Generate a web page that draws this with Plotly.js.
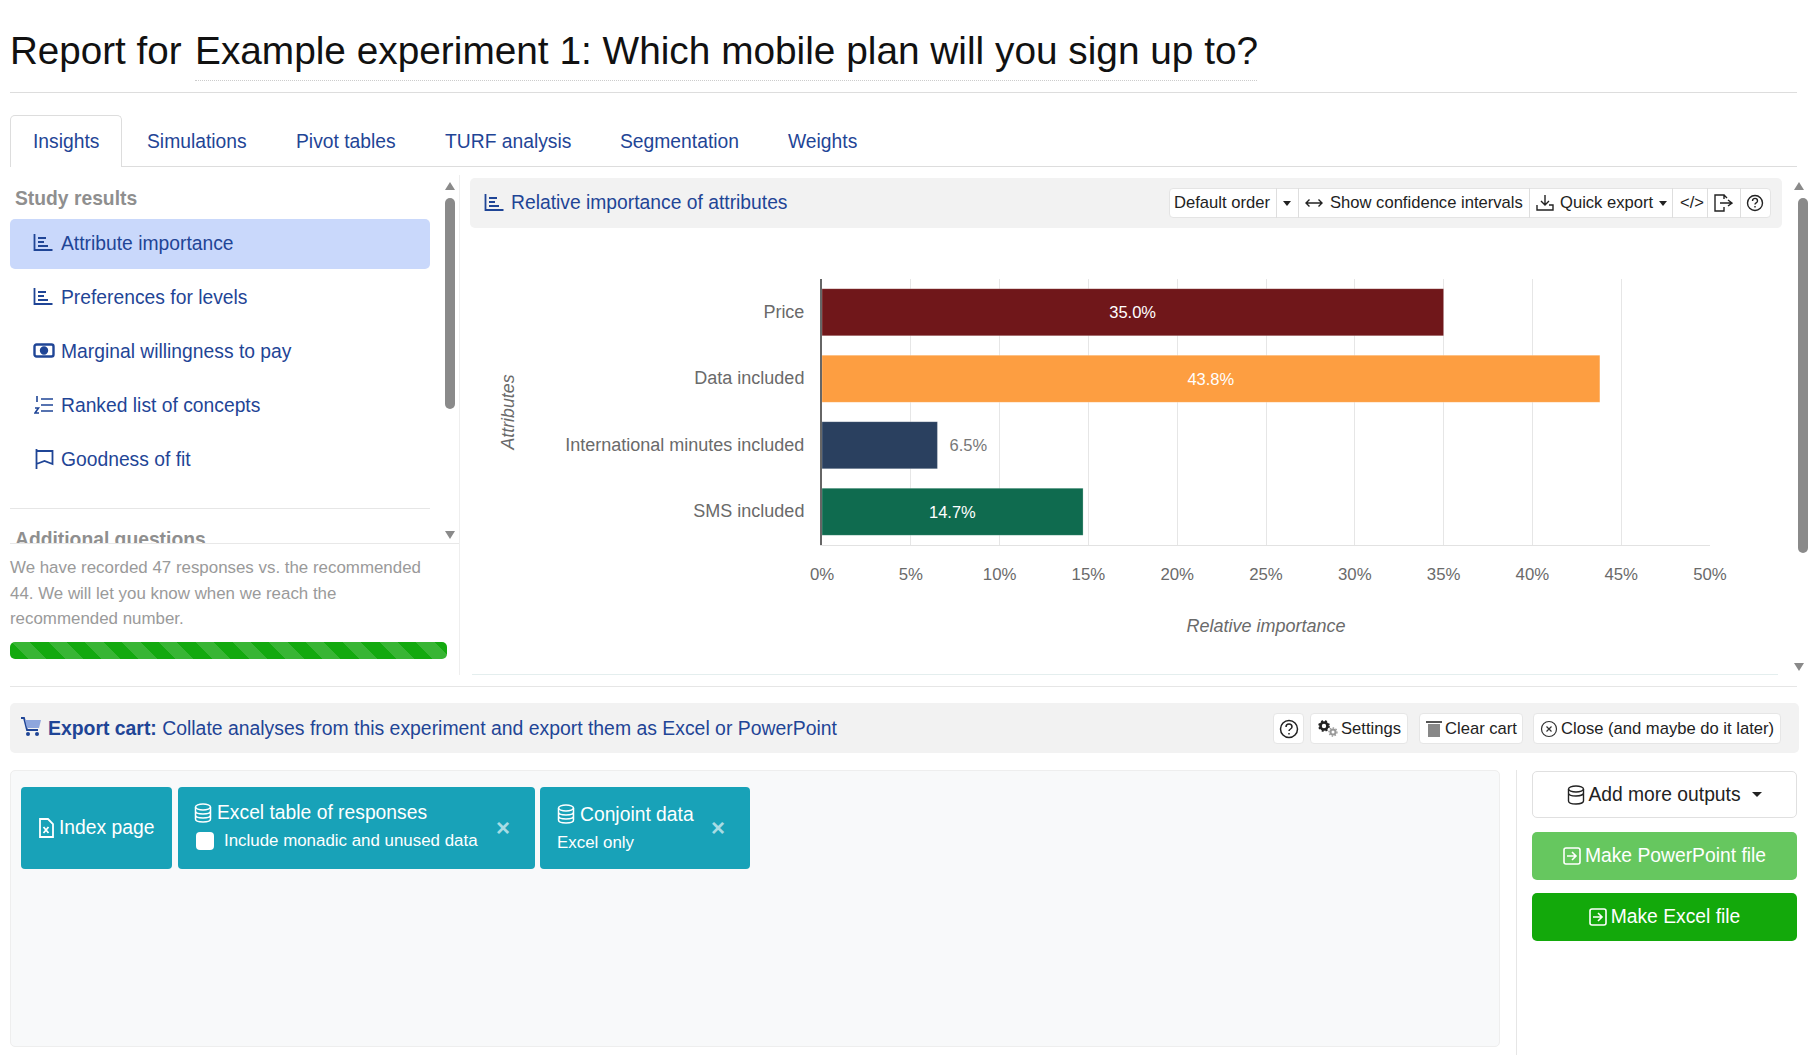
<!DOCTYPE html>
<html><head><meta charset="utf-8">
<script src="https://cdn.plot.ly/plotly-3.0.1.min.js"></script>
<style>
html,body{margin:0;padding:0;background:#fff;width:1808px;height:1055px;overflow:hidden;font-family:"Liberation Sans",Arial,sans-serif}
.a{position:absolute;white-space:nowrap}
.c{display:flex;align-items:center;justify-content:center;box-sizing:border-box}
.tab{font-size:19.3px;top:130px;line-height:24px;color:#1f4596}
.item{font-size:19.3px;left:61px;line-height:24px;color:#1f4596}
.ic{position:absolute;fill:none;stroke:#1f4596;stroke-width:1.8}
.btn{position:absolute;top:713px;height:31px;background:#fff;border:1px solid #e6e6e6;border-radius:4px;box-sizing:border-box;font-size:16.6px;color:#222;line-height:29px;white-space:nowrap}
.sep{position:absolute;top:188px;height:30px;width:1px;background:#dedede}
.tb{position:absolute;top:191px;font-size:16.6px;line-height:24px;color:#222;white-space:nowrap}
.tile{position:absolute;top:787px;height:82px;background:#18a2b8;border-radius:4px;color:#fff;white-space:nowrap}
.w{position:absolute;fill:none;stroke:#fff;stroke-width:1.5}
.ar{position:absolute;width:0;height:0;border-left:5px solid transparent;border-right:5px solid transparent}
</style></head><body>
<div class="a" style="left:10px;top:26px;font-size:38.6px;line-height:50px;color:#111" id="titleA"></div>
<div class="a" style="left:195px;top:26px;font-size:38.8px;line-height:50px;color:#111" id="titleB"></div>
<div class="a" style="left:195px;top:80px;width:1062px;border-top:1px dotted #ccc"></div>
<div class="a" style="left:10px;top:92px;width:1787px;border-top:1px solid #ddd"></div>

<div class="a" style="left:10px;top:166px;width:1787px;border-top:1px solid #ddd"></div>
<div class="a" style="left:10px;top:115px;width:112px;height:52px;box-sizing:border-box;background:#fff;border:1px solid #ddd;border-bottom:none;border-radius:5px 5px 0 0"></div>
<div id="tabs"></div>

<div class="a" style="left:15px;top:187px;font-size:19.3px;line-height:24px;font-weight:bold;color:#8f8f8f">Study results</div>
<div class="a" style="left:10px;top:219px;width:420px;height:50px;background:#c9d8fb;border-radius:5px"></div>
<div id="items"></div>
<svg class="ic" style="left:33px;top:233px" width="20" height="20" viewBox="0 0 20 20"><path d="M1.5 1v16h18M5 5h8M5 9h6M5 13h10"/></svg>
<svg class="ic" style="left:33px;top:287px" width="20" height="20" viewBox="0 0 20 20"><path d="M1.5 1v16h18M5 5h8M5 9h6M5 13h10"/></svg>
<svg class="ic" style="left:33px;top:341px;stroke-width:2.4" width="22" height="20" viewBox="0 0 22 20"><rect x="1.5" y="3.5" width="19" height="12" rx="2"/><circle cx="11" cy="9.5" r="3" fill="#1f4596"/></svg>
<svg class="ic" style="left:34px;top:395px" width="20" height="20" viewBox="0 0 20 20"><path d="M7 4h12M7 10h12M7 16h12M3 1v6M1 13h3.500l-3.500 5h4" stroke-width="1.6"/></svg>
<svg class="ic" style="left:35px;top:449px" width="19" height="20" viewBox="0 0 19 20"><path d="M1.5 0v20M1.5 2h16v13l-8-3-8 3"/></svg>
<div class="a" style="left:10px;top:508px;width:420px;border-top:1px solid #e6e6e6"></div>
<div class="a" style="left:15px;top:528px;height:15px;overflow:hidden;font-size:19.3px;line-height:24px;font-weight:bold;color:#8f8f8f">Additional questions</div>
<div class="a" style="left:10px;top:543px;width:449px;border-top:1px solid #e8e8e8"></div>
<div class="a" style="left:445px;top:198px;width:10px;height:211px;background:#8a8a8a;border-radius:5px"></div>
<div class="ar" style="left:445px;top:182px;border-bottom:8px solid #8a8a8a"></div>
<div class="ar" style="left:445px;top:531px;border-top:8px solid #8a8a8a"></div>
<div class="a" style="left:459px;top:175px;height:500px;border-left:1px solid #eee"></div>
<div class="a" style="left:10px;top:555px;font-size:16.9px;line-height:25.5px;color:#9a9a9a">We have recorded 47 responses vs. the recommended<br>44. We will let you know when we reach the<br>recommended number.</div>
<div class="a" style="left:10px;top:642px;width:437px;height:17px;border-radius:5px;background:repeating-linear-gradient(45deg,#13a90f 0,#13a90f 13px,#38b534 13px,#38b534 26px)"></div>
<div class="a" style="left:10px;top:686px;width:1787px;border-top:1px solid #e6e6e6"></div>

<div class="a" style="left:470px;top:178px;width:1312px;height:50px;background:#f2f2f2;border-radius:5px"></div>
<svg class="ic" style="left:484px;top:193px" width="20" height="20" viewBox="0 0 20 20"><path d="M1.5 1v16h18M5 5h8M5 9h6M5 13h10"/></svg>
<div class="a" style="left:511px;top:191px;font-size:19.3px;line-height:24px;color:#1f4596">Relative importance of attributes</div>
<div class="a" style="left:1169px;top:188px;width:602px;height:30px;background:#fff;border:1px solid #e4e4e4;box-sizing:border-box;border-radius:4px"></div>
<div class="sep" style="left:1276px"></div><div class="sep" style="left:1298px"></div><div class="sep" style="left:1529px"></div><div class="sep" style="left:1672px"></div><div class="sep" style="left:1707px"></div><div class="sep" style="left:1740px"></div>
<div class="tb" style="left:1174px">Default order</div>
<div class="ar" style="left:1283px;top:201px;border-left-width:4px;border-right-width:4px;border-top:5px solid #222"></div>
<svg class="ic" style="left:1305px;top:197px;stroke:#222;stroke-width:1.4" width="18" height="12" viewBox="0 0 18 12"><path d="M1 6h16M4.500 2.500L1 6l3.500 3.500M13.500 2.500L17 6l-3.500 3.500"/></svg>
<div class="tb" style="left:1330px">Show confidence intervals</div>
<svg class="ic" style="left:1536px;top:194px;stroke:#222;stroke-width:1.4" width="18" height="18" viewBox="0 0 18 18"><path d="M9 1v10M5 7l4 4 4-4M1 11v5h16v-5h-4"/></svg>
<div class="tb" style="left:1560px">Quick export</div>
<div class="ar" style="left:1659px;top:201px;border-left-width:4px;border-right-width:4px;border-top:5px solid #222"></div>
<div class="tb" style="left:1680px">&lt;/&gt;</div>
<svg class="ic" style="left:1713px;top:194px;stroke:#222;stroke-width:1.4" width="20" height="18" viewBox="0 0 20 18"><path d="M11 5V1H2v16h9v-4M11 1l3 3M7 9h12M15 6l4 3-4 3"/></svg>
<svg class="ic" style="left:1746px;top:194px;stroke:#222;stroke-width:1.4" width="18" height="18" viewBox="0 0 18 18"><circle cx="9" cy="9" r="7.5"/><path d="M6.5 7c0-3.5 5-3.5 5 0 0 2-2.500 1.800-2.500 3.500M9 12v1.500"/></svg>

<div id="chart" style="position:absolute;left:470px;top:240px;width:1310px;height:420px"></div>

<div class="a" style="left:1798px;top:198px;width:10px;height:355px;background:#8a8a8a;border-radius:5px"></div>
<div class="ar" style="left:1794px;top:182px;border-bottom:8px solid #8a8a8a"></div>
<div class="ar" style="left:1794px;top:663px;border-top:8px solid #8a8a8a"></div>
<div class="a" style="left:472px;top:674px;width:1306px;border-top:1px solid #e4eeee"></div>

<div class="a" style="left:10px;top:703px;width:1789px;height:50px;background:#f2f2f2;border-radius:5px"></div>
<svg class="a" style="left:20px;top:716px" width="22" height="22" viewBox="0 0 22 22"><path d="M1 2h3l3 12h11" fill="none" stroke="#1f4596" stroke-width="1.8"/><path d="M5 4h16l-2 8H7z" fill="#8ea6dd"/><circle cx="8" cy="18" r="2" fill="#1f4596"/><circle cx="17" cy="18" r="2" fill="#1f4596"/></svg>
<div class="a" style="left:48px;top:716px;font-size:19.4px;line-height:24px;color:#1f4596"><b>Export cart:</b> Collate analyses from this experiment and export them as Excel or PowerPoint</div>
<div class="btn c" style="left:1273px;width:31px"><svg width="20" height="20" viewBox="0 0 20 20" fill="none" stroke="#222" stroke-width="1.5"><circle cx="10" cy="10" r="8.500"/><path d="M7 8c0-4 6-4 6 0 0 2-3 2-3 4M10 14v1.500"/></svg></div>
<div class="btn" style="left:1310px;width:98px;padding-left:30px"><svg style="position:absolute;left:6px;top:6px" width="22" height="18" viewBox="0 0 22 18"><circle cx="7" cy="6" r="3.500" fill="none" stroke="#222" stroke-width="2.600"/><circle cx="7" cy="6" r="5" fill="none" stroke="#222" stroke-width="1.600" stroke-dasharray="2 2"/><circle cx="16" cy="12" r="2.500" fill="none" stroke="#999" stroke-width="2"/><circle cx="16" cy="12" r="4" fill="none" stroke="#999" stroke-width="1.300" stroke-dasharray="1.500 1.500"/></svg>Settings</div>
<div class="btn" style="left:1419px;width:104px;padding-left:25px"><svg style="position:absolute;left:6px;top:6px" width="16" height="18" viewBox="0 0 16 18"><rect x="2" y="4" width="12" height="13" fill="#888"/><rect x="0" y="1" width="16" height="2" fill="#555"/></svg>Clear cart</div>
<div class="btn" style="left:1533px;width:248px;padding-left:27px"><svg style="position:absolute;left:6px;top:6px" width="18" height="18" viewBox="0 0 18 18" fill="none" stroke="#333" stroke-width="1.200"><circle cx="9" cy="9" r="7.500"/><path d="M6.500 6.500l5 5M11.500 6.500l-5 5"/></svg>Close (and maybe do it later)</div>

<div class="a" style="left:10px;top:770px;width:1490px;height:277px;background:#f8f9fa;border:1px solid #eee;box-sizing:border-box;border-radius:5px"></div>
<div class="a" style="left:1516px;top:770px;height:285px;border-left:1px solid #e6e6e6"></div>

<div class="tile" style="left:21px;width:151px"><svg class="w" style="left:17px;top:31px;stroke-width:1.8" width="16" height="20" viewBox="0 0 16 20"><path d="M2 1h8l5 5v13H2z"/><path d="M5.500 9l5 6M10.500 9l-5 6"/></svg><span class="a" style="left:38px;top:29px;font-size:19.3px;line-height:24px">Index page</span></div>
<div class="tile" style="left:178px;width:357px"><svg class="w" style="left:16px;top:16px" width="18" height="20" viewBox="0 0 18 20"><ellipse cx="9" cy="4" rx="7.500" ry="3"/><path d="M1.500 4v12c0 4 15 4 15 0V4M1.500 8c0 4 15 4 15 0M1.500 12c0 4 15 4 15 0"/></svg><span class="a" style="left:39px;top:14px;font-size:19.3px;line-height:24px">Excel table of responses</span><div class="a" style="left:18px;top:45px;width:18px;height:18px;background:#fff;border-radius:4px"></div><span class="a" style="left:46px;top:42px;font-size:16.9px;line-height:24px">Include monadic and unused data</span><span class="a" style="left:318px;top:27px;font-size:24px;line-height:28px;color:#a8dce4;font-weight:bold">×</span></div>
<div class="tile" style="left:540px;width:210px"><svg class="w" style="left:17px;top:17px" width="18" height="20" viewBox="0 0 18 20"><ellipse cx="9" cy="4" rx="7.500" ry="3"/><path d="M1.500 4v12c0 4 15 4 15 0V4M1.500 8c0 4 15 4 15 0M1.500 12c0 4 15 4 15 0"/></svg><span class="a" style="left:40px;top:16px;font-size:19.3px;line-height:24px">Conjoint data</span><span class="a" style="left:17px;top:44px;font-size:16.9px;line-height:24px">Excel only</span><span class="a" style="left:171px;top:27px;font-size:24px;line-height:28px;color:#a8dce4;font-weight:bold">×</span></div>

<div class="a c" style="left:1532px;top:771px;width:265px;height:47px;background:#fff;border:1px solid #e0e0e0;border-radius:5px;font-size:19.3px;color:#222"><svg width="18" height="20" viewBox="0 0 18 20" fill="none" stroke="#222" stroke-width="1.400" style="margin-right:3px"><ellipse cx="9" cy="4" rx="7.500" ry="3"/><path d="M1.500 4v12c0 4 15 4 15 0V4M1.500 8c0 4 15 4 15 0"/></svg>Add more outputs<span class="ar" style="position:static;display:inline-block;margin-left:11px;border-top:5px solid #222"></span></div>
<div class="a c" style="left:1532px;top:832px;width:265px;height:48px;background:#66c75f;border-radius:5px;font-size:19.3px;color:#fff"><svg width="18" height="18" viewBox="0 0 18 18" fill="none" stroke="#fff" stroke-width="1.600" style="margin-right:4px"><rect x="1" y="1" width="16" height="16" rx="2"/><path d="M4 9h9M9 5l4 4-4 4"/></svg>Make PowerPoint file</div>
<div class="a c" style="left:1532px;top:893px;width:265px;height:48px;background:#13a90b;border-radius:5px;font-size:19.3px;color:#fff"><svg width="18" height="18" viewBox="0 0 18 18" fill="none" stroke="#fff" stroke-width="1.600" style="margin-right:4px"><rect x="1" y="1" width="16" height="16" rx="2"/><path d="M4 9h9M9 5l4 4-4 4"/></svg>Make Excel file</div>

<script>
var titlePrefix = "Report for";
var titleText = "Example experiment 1: Which mobile plan will you sign up to?";
var tabLabels = ["Insights","Simulations","Pivot tables","TURF analysis","Segmentation","Weights"];
var sideLabels = ["Attribute importance","Preferences for levels","Marginal willingness to pay","Ranked list of concepts","Goodness of fit"];
var categories = ["Price","Data included","International minutes included","SMS included"];
var importance = [35.0,43.8,6.5,14.7];
var barColors = ["#70171a","#fd9e41","#2a405f","#0f6b4f"];
var labelPlacement = ["inside","inside","outside","inside"];
var xTicks = [0,5,10,15,20,25,30,35,40,45,50];

document.getElementById("titleA").textContent = titlePrefix;
document.getElementById("titleB").textContent = titleText;
var tabX = [33,147,296,445,620,788];
document.getElementById("tabs").innerHTML = tabLabels.map(function(t,i){return '<div class="a tab" style="left:'+tabX[i]+'px">'+t+'</div>'}).join("");
var itemY = [232,286,340,394,448];
document.getElementById("items").innerHTML = sideLabels.map(function(t,i){return '<div class="a item" style="top:'+itemY[i]+'px">'+t+'</div>'}).join("");

var font = "Liberation Sans, Arial, sans-serif";
Plotly.newPlot("chart",[{
  type:"bar",orientation:"h",y:categories,x:importance,
  marker:{color:barColors,line:{color:"rgba(255,255,255,0.25)",width:1}},
  width:0.71,
  text:importance.map(function(v,i){return (labelPlacement[i]==="outside"?"\u00a0\u00a0":"")+v.toFixed(1)+"%"}),
  textposition:labelPlacement,textangle:0,insidetextanchor:"middle",
  insidetextfont:{family:font,size:16.5,color:"#fff"},
  outsidetextfont:{family:font,size:16.5,color:"#777"},
  cliponaxis:false,hoverinfo:"skip"
}],{
  width:1310,height:420,paper_bgcolor:"rgba(0,0,0,0)",plot_bgcolor:"rgba(0,0,0,0)",
  margin:{l:352,r:70,t:39,b:115,pad:0},showlegend:false,
  font:{family:font,size:18,color:"#6a6a6a"},
  xaxis:{range:[0,50],tickmode:"array",tickvals:xTicks,ticktext:xTicks.map(function(v){return v+"%"}),
    showgrid:true,gridcolor:"#e6e6e6",gridwidth:1,zeroline:false,showline:true,linecolor:"#e2e2e2",linewidth:1,
    ticks:"",ticklen:0,ticklabelstandoff:14,tickfont:{family:font,size:16.8,color:"#6a6a6a"},automargin:false,
    title:{text:"<i>Relative importance</i>",font:{family:font,size:18,color:"#6a6a6a"},standoff:36}},
  yaxis:{autorange:"reversed",type:"category",showgrid:false,zeroline:false,showline:true,linecolor:"#666",linewidth:2,
    ticks:"",ticklen:0,ticklabelstandoff:12,ticklabelshift:1,tickfont:{family:font,size:18,color:"#6a6a6a"},automargin:false,
    title:{text:"<i>Attributes</i>",font:{family:font,size:17.8,color:"#6a6a6a"},standoff:46}},
  bargap:0.29
},{displayModeBar:false,staticPlot:true});
</script>
</body></html>
